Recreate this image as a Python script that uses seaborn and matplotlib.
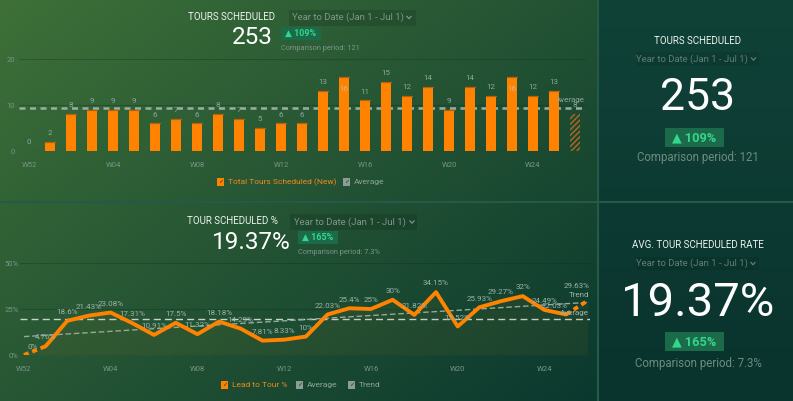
import numpy as np
import pandas as pd
import seaborn as sns
import matplotlib.pyplot as plt
from matplotlib.patches import Rectangle
from matplotlib.lines import Line2D

# ---- data ----
weeks = ["W52", "W01", "W02", "W03", "W04", "W05", "W06", "W07", "W08", "W09",
         "W10", "W11", "W12", "W13", "W14", "W15", "W16", "W17", "W18", "W19",
         "W20", "W21", "W22", "W23", "W24", "W25", "W26"]
tours = [0, 2, 8, 9, 9, 9, 6, 7, 6, 8, 7, 5, 6, 6,
         13, 16, 11, 15, 12, 14, 9, 14, 12, 16, 12, 13, 8]
rates = [0, 4.76, 18.6, 21.43, 23.08, 17.31, 10.91, 17.5, 11.32, 18.18,
         14.29, 7.81, 8.33, 10, 22.03, 25.4, 25, 30, 21.82, 34.15,
         15.52, 25.93, 29.27, 32, 24.49, 22.03, 29.63]
tick_weeks = ["W52", "W04", "W08", "W12", "W16", "W20", "W24"]
tours_avg = 9.37
rate_avg = 19.37
trend_ends = [10.0, 28.6]

ORANGE = "#ff8300"
GRAY = "#8ea69a"
TICK = "#7a9488"
WHITE = "#eef3ef"
BADGE_BG = "#1b6a4a"
BADGE_FG = "#35d68c"

W, H = 793, 401
sns.set_style("white")
plt.rcParams["font.family"] = ["Roboto", "DejaVu Sans"]

fig = plt.figure(figsize=(W / 100, H / 100), dpi=100)

# background gradient
bg = fig.add_axes([0, 0, 1, 1], zorder=-10)
yy, xx = np.mgrid[0:H, 0:W]
c0 = np.array([62, 112, 56]) / 255
c1 = np.array([10, 56, 47]) / 255
t = np.clip(0.55 * xx / 598 + 0.45 * yy / H, 0, 1)[..., None]
img = c0 * (1 - t) + c1 * t
r0 = np.array([16, 66, 56]) / 255
r1 = np.array([9, 51, 45]) / 255
tr = (yy / H)[..., None]
right = r0 * (1 - tr) + r1 * tr
img = np.where((xx >= 598)[..., None], right, img)
bg.imshow(img, aspect="auto", extent=[0, W, H, 0])
bg.set_xlim(0, W)
bg.set_ylim(H, 0)
bg.axis("off")
bg.plot([598, 598], [0, H], color="#245a48", lw=1.5)
bg.plot([0, W], [201.5, 201.5], color="#245a48", lw=1.5)


def fx(x):
    return x / W


def fy(y):
    return 1 - y / H


def txt(x, y, s, size, color, ha="center", weight="normal"):
    fig.text(fx(x), fy(y), s, fontsize=size, color=color, ha=ha, va="center",
             weight=weight)


def box(x0, y0, x1, y1, color, alpha=1.0):
    fig.add_artist(Rectangle((fx(x0), fy(y1)), (x1 - x0) / W, (y1 - y0) / H,
                             transform=fig.transFigure, facecolor=color,
                             alpha=alpha, lw=0, zorder=1))


def chevron(x, y, color):
    fig.add_artist(Line2D([fx(x - 2.2), fx(x), fx(x + 2.2)],
                          [fy(y - 1.2), fy(y + 1.2), fy(y - 1.2)],
                          transform=fig.transFigure, color=color, lw=0.9))


def checkbox(x0, y0, x1, y1, color, text, tcolor):
    box(x0, y0, x1, y1, color)
    fig.text(fx((x0 + x1) / 2), fy((y0 + y1) / 2), "\u2713", fontsize=4.5,
             color="#1a3a30", ha="center", va="center", family="DejaVu Sans")
    txt(x1 + 4, (y0 + y1) / 2, text, 6, tcolor, ha="left")


# ---- top chart: tours scheduled ----
ax1 = fig.add_axes([fx(18.5), fy(151), 567 / W, 92 / H])
ax1.set_facecolor("none")
df_tours = pd.DataFrame({"week": weeks, "tours": tours})
sns.barplot(data=df_tours, x="week", y="tours", ax=ax1, color=ORANGE,
            saturation=1, width=0.52, order=weeks, linewidth=0)
bars = ax1.patches
for i, (p, v) in enumerate(zip(bars, tours)):
    if i == len(tours) - 1:
        p.set_facecolor("none")
        p.set_edgecolor("#b8671e")
        p.set_hatch("//////")
        p.set_linewidth(0)
    elif v > 0:
        ax1.plot([p.get_x(), p.get_x() + p.get_width()], [v, v],
                 color="#b9600c", lw=0.9)
    if v >= 16:
        ax1.annotate(str(v), (i, v), xytext=(0, -8.5), textcoords="offset points",
                     ha="center", va="center", fontsize=5.8, color="#dcb489")
    else:
        ax1.annotate(str(v), (i, v), xytext=(0, 6.3), textcoords="offset points",
                     ha="center", va="center", fontsize=5.8, color=GRAY)
ax1.axhline(tours_avg, color="#9cada4", lw=1.8, ls=(0, (2.4, 1.8)), zorder=0.5)
ax1.text(26.45, tours_avg + 1.8, "Average", ha="right", va="center",
         fontsize=5.8, color=GRAY)
ax1.set_xlim(-0.5, 26.5)
ax1.set_ylim(0, 20)
ax1.set_yticks([0, 10, 20])
ax1.set_xticks([weeks.index(w) for w in tick_weeks])
ax1.set_xticklabels(tick_weeks)
ax1.set_xlabel("")
ax1.set_ylabel("")
ax1.grid(axis="y", color="#0b2a20", alpha=0.3, lw=0.8)
ax1.set_axisbelow(True)
ax1.tick_params(axis="x", length=0, pad=8, labelsize=5.5, labelcolor=TICK)
ax1.tick_params(axis="y", length=0, pad=2.5, labelsize=5.5, labelcolor=TICK)
sns.despine(ax=ax1, left=True, bottom=True)

checkbox(217, 178, 224, 186, ORANGE, "Total Tours Scheduled (New)", "#f0891c")
checkbox(343, 178, 350, 186, "#8a9e95", "Average", GRAY)

# ---- bottom chart: tour scheduled % ----
ax2 = fig.add_axes([fx(20), fy(355), 570 / W, 92 / H])
ax2.set_facecolor("none")
idx = np.arange(len(rates))
df_rates = pd.DataFrame({"i": idx, "rate": rates})
ax2.fill_between(idx, rates, 0, color="#c08a20", alpha=0.07, lw=0)
sns.lineplot(data=df_rates.iloc[1:26], x="i", y="rate", ax=ax2, color=ORANGE,
             lw=2.8)
sns.lineplot(data=df_rates.iloc[0:2], x="i", y="rate", ax=ax2, color=ORANGE,
             lw=2.8, linestyle=(0, (1.3, 1.0)))
sns.lineplot(data=df_rates.iloc[25:27], x="i", y="rate", ax=ax2, color=ORANGE,
             lw=2.8, linestyle=(0, (1.3, 1.0)))
ax2.axhline(rate_avg, color="#c9d3ce", lw=1.0, ls=(0, (5, 3)), zorder=0.5)
ax2.plot([idx[0], idx[-1]], trend_ends, color="#94aa9f", lw=1.0,
         ls=(0, (4, 2)), zorder=0.6)
for i, v in enumerate(rates):
    lab = f"{v:g}%"
    if i == 0:
        off = (6, 6)
    elif i == len(rates) - 1:
        off = (-8, 10.5)
    elif i == len(rates) - 2:
        off = (-8, 6.3)
    else:
        off = (0, 6.3)
    ax2.annotate(lab, (i, v), xytext=off, textcoords="offset points",
                 ha="center", va="center", fontsize=5.8, color="#9db2a8")
ax2.text(26.05, 32.6, "Trend", ha="right", va="center", fontsize=5.8,
         color="#9db2a8")
ax2.text(26.05, 22.6, "Average", ha="right", va="center", fontsize=5.8,
         color="#9db2a8")
ax2.set_xlim(-0.18, 26.1)
ax2.set_ylim(0, 50)
ax2.set_yticks([0, 25, 50])
ax2.set_yticklabels(["0%", "25%", "50%"])
ax2.set_xticks([weeks.index(w) for w in tick_weeks])
ax2.set_xticklabels(tick_weeks)
ax2.set_xlabel("")
ax2.set_ylabel("")
ax2.grid(axis="y", color="#0b2a20", alpha=0.3, lw=0.8)
ax2.set_axisbelow(True)
ax2.tick_params(axis="x", length=0, pad=8, labelsize=5.5, labelcolor=TICK)
ax2.tick_params(axis="y", length=0, pad=1, labelsize=5.5, labelcolor=TICK)
sns.despine(ax=ax2, left=True, bottom=True)

checkbox(221, 381, 228, 389, ORANGE, "Lead to Tour %", "#f0891c")
checkbox(296, 381, 303, 389, "#8a9e95", "Average", GRAY)
checkbox(348, 381, 355, 389, "#8a9e95", "Trend", GRAY)

# ---- headers on the left cards ----
txt(232, 17.5, "TOURS SCHEDULED", 7, WHITE)
txt(252.5, 38, "253", 17.5, "white")
box(289, 10, 416, 26, "#000000", 0.12)
txt(292, 17.5, "Year to Date (Jan 1 - Jul 1)", 6.8, "#7d978b", ha="left")
chevron(409, 17.5, "#7d978b")
box(281, 27, 321, 40, BADGE_BG)
txt(301, 33.5, "\u25b2 109%", 6.5, BADGE_FG, weight="bold")
txt(281, 49, "Comparison period: 121", 5.3, "#7d958a", ha="left")

txt(232.5, 221.5, "TOUR SCHEDULED %", 7, WHITE)
txt(251, 242.5, "19.37%", 17.5, "white")
box(290, 214, 417, 230, "#000000", 0.12)
txt(294, 222, "Year to Date (Jan 1 - Jul 1)", 6.8, "#7d978b", ha="left")
chevron(412, 222, "#7d978b")
box(298, 231, 338, 244, BADGE_BG)
txt(318, 237.5, "\u25b2 165%", 6.5, BADGE_FG, weight="bold")
txt(298, 253, "Comparison period: 7.3%", 5.3, "#7d958a", ha="left")

# ---- right KPI cards ----
txt(698, 41, "TOURS SCHEDULED", 7, WHITE)
box(637, 52, 759, 66, "#000000", 0.08)
txt(748, 59, "Year to Date (Jan 1 - Jul 1)", 6.8, "#5f7f74", ha="right")
chevron(753.5, 59, "#5f7f74")
txt(697.5, 98, "253", 32, "white")
box(665, 128, 724, 147, BADGE_BG)
txt(694.5, 137.5, "\u25b2 109%", 9.2, BADGE_FG, weight="bold")
txt(698, 158, "Comparison period: 121", 8.3, "#6e8b80")

txt(698, 244.5, "AVG. TOUR SCHEDULED RATE", 7, WHITE)
box(637, 257, 759, 270, "#000000", 0.08)
txt(748, 263.5, "Year to Date (Jan 1 - Jul 1)", 6.8, "#5f7f74", ha="right")
chevron(753, 263.5, "#5f7f74")
txt(698, 302.5, "19.37%", 34, "white")
box(665, 332, 724, 351, BADGE_BG)
txt(694.5, 341.5, "\u25b2 165%", 9.2, BADGE_FG, weight="bold")
txt(698, 363, "Comparison period: 7.3%", 8.3, "#6e8b80")

fig.savefig("out.png", dpi=100)
